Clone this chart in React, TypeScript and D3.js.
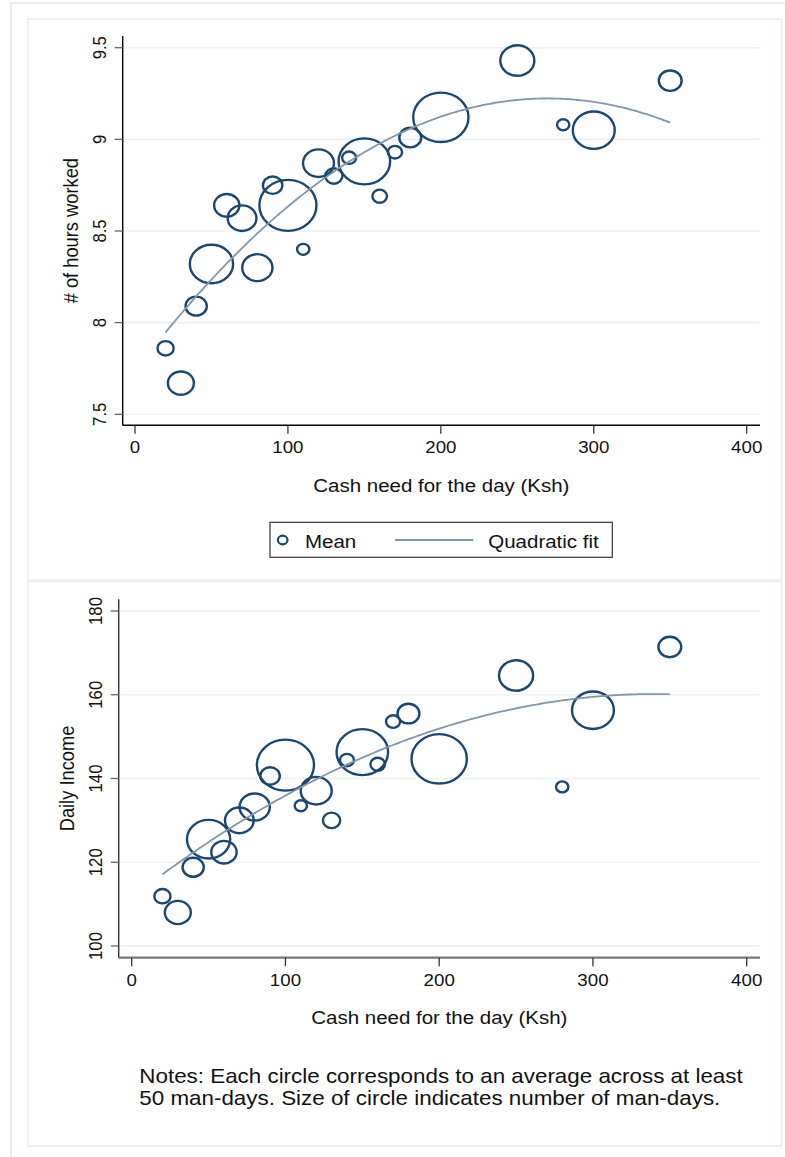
import React from 'react';
import * as d3 from 'd3';

// cash need bins (Ksh) shared by both panels
const cashNeed = [20, 30, 40, 50, 60, 70, 80, 90, 100, 110, 120, 130, 140, 150, 160, 170, 180, 200, 250, 280, 300, 350];
// approx number of man-days behind each mean (drives circle size)
const manDays = [86, 222, 149, 615, 211, 271, 301, 125, 1074, 50, 315, 98, 64, 874, 70, 66, 159, 1008, 382, 50, 578, 172];
const hoursWorked = [7.86, 7.67, 8.09, 8.32, 8.64, 8.57, 8.3, 8.75, 8.64, 8.4, 8.87, 8.8, 8.9, 8.88, 8.69, 8.93, 9.01, 9.12, 9.43, 9.08, 9.05, 9.32];
const dailyIncome = [111.9, 108.0, 118.8, 125.5, 122.4, 130.0, 133.2, 140.6, 143.2, 133.5, 137.1, 130.0, 144.4, 146.3, 143.4, 153.6, 155.5, 144.7, 164.6, 138.0, 156.3, 171.4];

const xTicks = [0, 100, 200, 300, 400];
const hoursTicks = [7.5, 8, 8.5, 9, 9.5];
const incomeTicks = [100, 120, 140, 160, 180];

const NAVY = '#1a476f';
const FIT = '#8195ab';
const GRID = '#eaf2f3';
const FRAME = '#e6eef0';
const SX = 1.12; // the reference is a little wider than tall
const FONT = '"Liberation Sans", Arial, Helvetica, sans-serif';

// weighted least squares quadratic, same as qfit on the raw man-days
function quadFit(xs: number[], ys: number[], ws: number[]) {
  const S = [[0, 0, 0], [0, 0, 0], [0, 0, 0]];
  const b = [0, 0, 0];
  xs.forEach((x, i) => {
    const p = [1, x, x * x];
    for (let r = 0; r < 3; r++) {
      b[r] += ws[i] * p[r] * ys[i];
      for (let c = 0; c < 3; c++) S[r][c] += ws[i] * p[r] * p[c];
    }
  });
  // gaussian elimination
  const A = S.map((row, i) => [...row, b[i]]);
  for (let i = 0; i < 3; i++) {
    for (let j = i + 1; j < 3; j++) {
      const f = A[j][i] / A[i][i];
      for (let k = i; k < 4; k++) A[j][k] -= f * A[i][k];
    }
  }
  const c = [0, 0, 0];
  for (let i = 2; i >= 0; i--) {
    let s = A[i][3];
    for (let k = i + 1; k < 3; k++) s -= A[i][k] * c[k];
    c[i] = s / A[i][i];
  }
  return (x: number) => c[0] + c[1] * x + c[2] * x * x;
}

const rScale = d3.scaleSqrt().domain([0, d3.max(manDays) as number]).range([0, 25.5]);

type PanelProps = {
  ys: number[];
  yTicks: number[];
  yLabel: string;
  xRange: [number, number];
  yRange: [number, number];
  left: number;
  top: number;
  bottom: number;
  xAxisColor: string;
  xAxisWidth: number;
  yAxisColor: string;
};

function Panel(p: PanelProps) {
  const right = 760;
  const x = d3.scaleLinear().domain([0, 400]).range(p.xRange);
  const y = d3.scaleLinear().domain([p.yTicks[0], p.yTicks[p.yTicks.length - 1]]).range(p.yRange);
  const fit = quadFit(cashNeed, p.ys, manDays);
  const [x0, x1] = d3.extent(cashNeed) as [number, number];
  const fitPts = d3.range(x0, x1 + 0.1, 2).map((v) => [v, fit(v)] as [number, number]);
  const line = d3.line<[number, number]>().x((d) => x(d[0])).y((d) => y(d[1])).curve(d3.curveMonotoneX);
  const midY = (p.top + p.bottom) / 2;
  const midX = (p.left + right) / 2;

  return (
    <g>
      {p.yTicks.map((t) => (
        <line key={'g' + t} x1={p.left} x2={right} y1={y(t)} y2={y(t)} stroke={GRID} strokeWidth={1.6} />
      ))}
      {p.ys.map((v, i) => (
        <ellipse key={i} cx={x(cashNeed[i])} cy={y(v)} rx={rScale(manDays[i]) * SX} ry={rScale(manDays[i])}
          fill="none" stroke={NAVY} strokeWidth={2.4} />
      ))}
      <path d={line(fitPts) || ''} fill="none" stroke={FIT} strokeWidth={1.8} />
      {/* y axis */}
      <line x1={p.left} x2={p.left} y1={p.top} y2={p.bottom} stroke={p.yAxisColor} strokeWidth={1.4} />
      {p.yTicks.map((t) => (
        <g key={'y' + t}>
          <line x1={p.left - 8} x2={p.left} y1={y(t)} y2={y(t)} stroke="#666" strokeWidth={1.3} />
          <text transform={`translate(${p.left - 17},${y(t)}) scale(${SX},1) rotate(-90)`} textAnchor="middle"
            fontSize={16.7} fill="#111">{String(t)}</text>
        </g>
      ))}
      <text transform={`translate(${p.left - 44.3},${midY}) scale(${SX},1) rotate(-90)`} textAnchor="middle"
        fontSize={18.3} fill="#111">{p.yLabel}</text>
      {/* x axis */}
      <line x1={p.left} x2={right} y1={p.bottom} y2={p.bottom} stroke={p.xAxisColor} strokeWidth={p.xAxisWidth} />
      {xTicks.map((t) => (
        <g key={'x' + t}>
          <line x1={x(t)} x2={x(t)} y1={p.bottom} y2={p.bottom + 8.5} stroke="#333" strokeWidth={1.3} />
          <text transform={`translate(${x(t)},${p.bottom + 28}) scale(${SX},1)`} textAnchor="middle"
            fontSize={16.7} fill="#111">{String(t)}</text>
        </g>
      ))}
      <text transform={`translate(${midX},${p.bottom + 66.5}) scale(${SX},1)`} textAnchor="middle"
        fontSize={18.3} fill="#111">Cash need for the day (Ksh)</text>
    </g>
  );
}

export default function App() {
  return (
    <svg width={785} height={1157} style={{ position: 'absolute', left: 0, top: 0, background: '#fff' }}
      fontFamily={FONT}>
      {/* outer page frame */}
      <rect x={11} y={3} width={790} height={1170} fill="none" stroke={FRAME} strokeWidth={2} />
      <rect x={28} y={19} width={753.5} height={561} fill="none" stroke={FRAME} strokeWidth={1.5} />
      <rect x={28} y={581.5} width={753.5} height={564.5} fill="none" stroke={FRAME} strokeWidth={1.5} />

      <Panel ys={hoursWorked} yTicks={hoursTicks} yLabel="# of hours worked" xRange={[135, 746.7]}
        yRange={[414.3, 47.7]} left={122.7} top={36} bottom={425.3} xAxisColor="#000" xAxisWidth={1.4}
        yAxisColor="#000" />

      {/* legend */}
      <g>
        <rect x={270} y={522.3} width={342.3} height={35} fill="#fff" stroke="#333" strokeWidth={1.2} />
        <ellipse cx={282.7} cy={540} rx={4.3 * SX} ry={4.3} fill="none" stroke={NAVY} strokeWidth={2.2} />
        <text transform={`translate(305,547.5) scale(${SX},1)`} fontSize={18.3} fill="#111">Mean</text>
        <line x1={395} x2={473.3} y1={540} y2={540} stroke={FIT} strokeWidth={1.8} />
        <text transform={`translate(488.3,547.5) scale(${SX},1)`} fontSize={18.3} fill="#111">Quadratic fit</text>
      </g>

      <Panel ys={dailyIncome} yTicks={incomeTicks} yLabel="Daily Income" xRange={[131.7, 746.7]}
        yRange={[946, 611]} left={118.7} top={599.3} bottom={957.7} xAxisColor="#777" xAxisWidth={2.2}
        yAxisColor="#333" />

      <text transform={`translate(139.3,1083.3) scale(${SX},1)`} fontSize={20} fill="#111">
        Notes: Each circle corresponds to an average across at least
      </text>
      <text transform={`translate(139.3,1104.5) scale(${SX},1)`} fontSize={20} fill="#111">
        50 man-days. Size of circle indicates number of man-days.
      </text>
    </svg>
  );
}
